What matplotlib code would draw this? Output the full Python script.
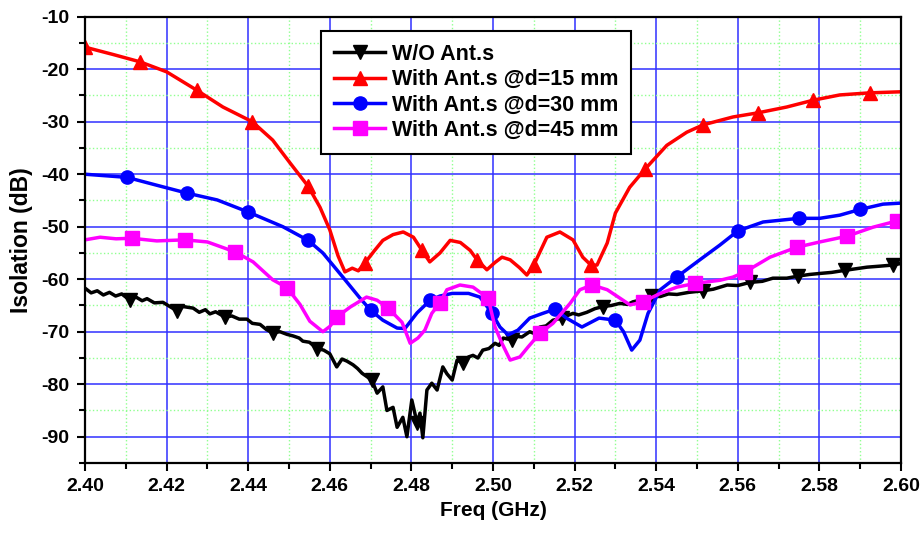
import numpy as np
import matplotlib
matplotlib.use("Agg")
import matplotlib.pyplot as plt
from matplotlib.ticker import MultipleLocator

plt.rcParams['font.family'] = ['Liberation Sans', 'DejaVu Sans']
plt.rcParams['font.weight'] = 'bold'
plt.rcParams['axes.unicode_minus'] = False

# W/O antennas
wo_x = [2.400, 2.4015, 2.403, 2.4045, 2.406, 2.4075, 2.409, 2.411, 2.4125, 2.414,
        2.4152, 2.417, 2.4191, 2.421, 2.4225, 2.424, 2.4265, 2.428, 2.4295, 2.4306,
        2.432, 2.4343, 2.436, 2.4378, 2.4397, 2.441, 2.4429, 2.4445, 2.446, 2.4478,
        2.4495, 2.451, 2.4525, 2.4534, 2.455, 2.4569, 2.4585, 2.460, 2.4617, 2.463,
        2.4642, 2.4657, 2.4668, 2.4679, 2.4703, 2.4716, 2.473, 2.474, 2.4755, 2.4765,
        2.4779, 2.4789, 2.4801, 2.4814, 2.4821, 2.4828, 2.4838, 2.485, 2.4863, 2.4877,
        2.4887, 2.490, 2.4912, 2.4926, 2.494, 2.4951, 2.4963, 2.4975, 2.499, 2.5005,
        2.5015, 2.5025, 2.5047, 2.506, 2.5071, 2.509, 2.510, 2.5115, 2.513, 2.5147,
        2.5169, 2.518, 2.5196, 2.521, 2.523, 2.525, 2.527, 2.529, 2.5311, 2.533,
        2.5343, 2.5365, 2.539, 2.541, 2.543, 2.5451, 2.548, 2.5515, 2.554, 2.5574,
        2.560, 2.563, 2.566, 2.5686, 2.572, 2.5748, 2.5775, 2.5801, 2.583, 2.5863,
        2.589, 2.5917, 2.595, 2.598, 2.600]
wo_y = [-61.7, -62.6, -62.2, -63.0, -62.5, -63.2, -62.8, -64.0, -63.4, -64.1,
        -63.7, -64.5, -64.4, -65.3, -66.0, -65.2, -65.5, -66.3, -65.8, -66.6,
        -66.2, -67.2, -67.0, -67.6, -67.6, -68.4, -68.6, -69.6, -70.2, -70.0,
        -70.5, -70.8, -71.2, -71.8, -72.0, -73.2, -73.5, -74.2, -76.7, -75.2,
        -75.6, -76.3, -77.0, -77.9, -79.2, -81.7, -80.5, -85.0, -84.4, -88.2,
        -86.3, -90.0, -83.0, -87.4, -85.5, -90.2, -81.1, -79.8, -81.1, -76.7,
        -78.0, -79.2, -75.4, -76.0, -74.8, -74.5, -75.0, -73.5, -73.2, -72.2,
        -72.6, -71.2, -71.6, -70.9, -71.0, -70.0, -70.3, -69.1, -68.9, -67.8,
        -67.4, -67.0, -66.5, -66.8, -66.3, -65.6, -65.2, -65.0, -64.6, -64.8,
        -64.3, -63.9, -63.2, -63.3, -62.8, -62.9, -62.5, -62.2, -61.9, -61.1,
        -61.2, -60.6, -60.4, -59.8, -59.8, -59.4, -59.1, -58.9, -58.7, -58.3,
        -58.0, -57.7, -57.5, -57.3, -57.0]
wo_marks = [2.411, 2.4225, 2.4343, 2.446, 2.4569, 2.4703, 2.4814, 2.4926, 2.5047,
            2.5169, 2.527, 2.539, 2.5515, 2.563, 2.5748, 2.5863, 2.598]

# d = 15 mm
d15_x = [2.400, 2.4069, 2.4135, 2.420, 2.4274, 2.4338, 2.441, 2.446, 2.4503, 2.4547,
         2.4576, 2.460, 2.462, 2.4637, 2.4655, 2.467, 2.4686, 2.471, 2.473, 2.4755,
         2.478, 2.4805, 2.4826, 2.4845, 2.487, 2.4895, 2.492, 2.4944, 2.4961, 2.4985,
         2.5005, 2.5022, 2.5042, 2.5065, 2.5083, 2.510, 2.5132, 2.5164, 2.5196, 2.522,
         2.524, 2.5255, 2.528, 2.530, 2.5335, 2.5373, 2.5426, 2.5475, 2.5515, 2.5588,
         2.565, 2.572, 2.5785, 2.585, 2.5924, 2.600]
d15_y = [-15.8, -17.2, -18.6, -20.5, -24.0, -27.2, -30.0, -33.5, -37.9, -42.3,
         -46.3, -50.6, -55.5, -58.6, -57.9, -58.4, -56.9, -54.5, -52.6, -51.5,
         -51.0, -52.0, -54.5, -56.7, -55.0, -52.6, -53.0, -54.5, -56.3, -58.2,
         -56.8, -55.8, -56.3, -57.8, -59.2, -57.3, -52.0, -51.0, -52.5, -55.8,
         -57.3, -57.3, -53.1, -47.4, -42.5, -39.0, -34.5, -32.0, -30.6, -29.1,
         -28.3, -27.2, -25.9, -24.9, -24.5, -24.3]
d15_marks = [2.400, 2.4135, 2.4274, 2.441, 2.4547, 2.4686, 2.4826, 2.4961, 2.510,
             2.524, 2.5373, 2.5515, 2.565, 2.5785, 2.5924]

# d = 30 mm
d30_x = [2.400, 2.4103, 2.4176, 2.425, 2.4324, 2.440, 2.4485, 2.4547, 2.4583, 2.4632,
         2.4674, 2.470, 2.473, 2.4765, 2.4784, 2.4814, 2.4846, 2.487, 2.490, 2.494,
         2.4968, 2.4998, 2.5017, 2.5037, 2.5061, 2.509, 2.5122, 2.5152, 2.518, 2.5218,
         2.526, 2.530, 2.532, 2.534, 2.536, 2.538, 2.541, 2.545, 2.5507, 2.5556,
         2.560, 2.5662, 2.575, 2.5801, 2.585, 2.590, 2.5956, 2.600]
d30_y = [-40.0, -40.6, -42.1, -43.6, -44.9, -47.2, -50.0, -52.6, -55.0, -59.6,
         -63.6, -65.9, -67.8, -69.3, -69.4, -66.4, -64.0, -63.2, -62.7, -62.7,
         -63.4, -66.5, -69.1, -70.6, -69.7, -67.4, -66.5, -65.7, -67.4, -69.1,
         -67.4, -67.8, -70.0, -73.5, -71.6, -66.5, -62.0, -59.6, -56.3, -53.5,
         -50.8, -49.1, -48.4, -48.4, -47.8, -46.7, -45.7, -45.5]
d30_marks = [2.4103, 2.425, 2.440, 2.4547, 2.470, 2.4846, 2.4998, 2.5152, 2.530,
             2.545, 2.560, 2.575, 2.590]

# d = 45 mm
d45_x = [2.400, 2.4037, 2.4076, 2.4115, 2.4176, 2.4245, 2.430, 2.4368, 2.4412, 2.446,
         2.4495, 2.4527, 2.4551, 2.4583, 2.460, 2.4617, 2.465, 2.469, 2.4716, 2.4743,
         2.4777, 2.4797, 2.4816, 2.4833, 2.485, 2.487, 2.4887, 2.4919, 2.4951, 2.4988,
         2.5005, 2.5022, 2.5042, 2.5066, 2.5086, 2.5115, 2.5147, 2.5189, 2.5213, 2.5243,
         2.528, 2.5311, 2.5336, 2.5368, 2.541, 2.5451, 2.5495, 2.5556, 2.5588, 2.5618,
         2.5679, 2.5745, 2.5801, 2.5868, 2.5931, 2.599, 2.600]
d45_y = [-52.5, -52.0, -52.3, -52.2, -52.7, -52.5, -52.9, -54.8, -56.7, -60.1,
         -61.6, -64.8, -68.0, -70.0, -69.0, -67.2, -65.3, -63.4, -64.0, -65.5,
         -68.2, -72.2, -71.2, -69.7, -66.5, -64.5, -62.0, -61.1, -61.5, -63.6,
         -69.1, -72.2, -75.4, -74.8, -72.9, -70.3, -68.4, -64.6, -62.0, -61.1,
         -62.0, -63.6, -64.9, -64.3, -62.7, -61.5, -60.8, -60.2, -59.6, -58.6,
         -55.8, -53.9, -52.9, -51.8, -50.1, -48.9, -48.8]
d45_marks = [2.4115, 2.4245, 2.4368, 2.4495, 2.4617, 2.4743, 2.487, 2.4988, 2.5115,
             2.5243, 2.5368, 2.5495, 2.5618, 2.5745, 2.5868, 2.599]

series = [
    ('W/O Ant.s', wo_x, wo_y, wo_marks, 'black', 'v'),
    ('With Ant.s @d=15 mm', d15_x, d15_y, d15_marks, 'red', '^'),
    ('With Ant.s @d=30 mm', d30_x, d30_y, d30_marks, 'blue', 'o'),
    ('With Ant.s @d=45 mm', d45_x, d45_y, d45_marks, 'magenta', 's'),
]

fig = plt.figure(figsize=(9.22, 5.37), dpi=100)
ax = fig.add_axes([0.0922, 0.1378, 0.885, 0.8311])

for label, x, y, marks, color, mk in series:
    idx = [x.index(m) for m in marks]
    ax.plot(x, y, color=color, lw=2.5, marker=mk, markevery=idx,
            markersize=9.5, label=label)

ax.set_xlim(2.40, 2.60)
ax.set_ylim(-95, -10)
ax.xaxis.set_major_locator(MultipleLocator(0.02))
ax.xaxis.set_minor_locator(MultipleLocator(0.01))
ax.yaxis.set_major_locator(MultipleLocator(10))
ax.yaxis.set_minor_locator(MultipleLocator(5))
ax.xaxis.set_major_formatter(plt.FormatStrFormatter('%.2f'))
ax.set_yticks(np.arange(-90, -9, 10))

ax.grid(which='major', color='#3030ff', lw=1.1, ls='-')
ax.grid(which='minor', color='#90ff90', lw=1.0, ls=':')
ax.set_axisbelow(True)

ax.tick_params(which='major', direction='out', length=6, width=1.5,
               labelsize=14, pad=5)
ax.tick_params(which='minor', direction='out', length=4, width=1.5)
for s in ax.spines.values():
    s.set_linewidth(1.6)

ax.set_xlabel('Freq (GHz)', fontsize=15, fontweight='bold', labelpad=4)
ax.set_ylabel('Isolation (dB)', fontsize=16.5, fontweight='bold', labelpad=6)

leg = ax.legend(loc='upper left', bbox_to_anchor=(0.289, 0.968),
                fontsize=15.5, frameon=True, fancybox=False, framealpha=1,
                edgecolor='black', handlelength=2.4, borderpad=0.6,
                labelspacing=0.2, handletextpad=0.3, borderaxespad=0)
leg.get_frame().set_linewidth(1.5)

fig.savefig('out.png', dpi=100)
